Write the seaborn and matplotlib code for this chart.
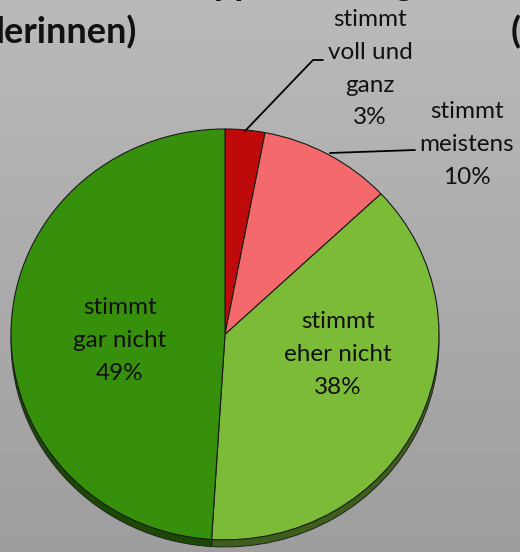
import numpy as np
import matplotlib
matplotlib.use("Agg")
import matplotlib.pyplot as plt
import seaborn as sns

# answer categories, clockwise from the top
labels = ["stimmt\nvoll und\nganz", "stimmt\nmeistens", "stimmt\neher nicht", "stimmt\ngar nicht"]
shares = [3, 10, 38, 49]
colors = ["#BE0A0A", "#F46A6C", "#7CBB38", "#37900C"]
rim_colors = ["#5E0505", "#7A3536", "#3E5E1C", "#1C4806"]
title_line1 = "Es kommt zu Gruppenbildung"
title_line2 = "(Schülerinnen)"

sns.set_theme(style="white")
plt.rcParams["font.family"] = ["Lato", "DejaVu Sans"]

W, H = 520, 552
fig = plt.figure(figsize=(W / 100, H / 100), dpi=100)

# grey gradient background
bg = fig.add_axes([0, 0, 1, 1])
grad = np.linspace(0, 1, 256).reshape(-1, 1)
bg.imshow(grad, cmap=matplotlib.colors.LinearSegmentedColormap.from_list("g", ["#BABABA", "#9E9E9E"]),
          aspect="auto", extent=[0, W, H, 0])
bg.set_xlim(0, W)
bg.set_ylim(H, 0)
bg.axis("off")

# pie axes fitted to the ellipse box (x 11..439, y 129..547)
left, right, top, bottom = 11, 439, 129, 547
ax = fig.add_axes([left / W, 1 - bottom / H, (right - left) / W, (bottom - top) / H])
drop = 0.035
ax.pie(shares, colors=rim_colors, startangle=90, counterclock=False, center=(0, -drop),
       wedgeprops=dict(edgecolor="#1A1A1A", linewidth=0.6))
ax.pie(shares, colors=colors, startangle=90, counterclock=False,
       wedgeprops=dict(edgecolor="#1A1A1A", linewidth=0.8))
ax.set_xlim(-1, 1)
ax.set_ylim(-1 - drop, 1)
ax.set_aspect("auto")
ax.axis("off")

# overlay in pixel coordinates for labels and title
ov = fig.add_axes([0, 0, 1, 1])
ov.set_xlim(0, W)
ov.set_ylim(H, 0)
ov.axis("off")
ov.patch.set_alpha(0)

pct = [f"{s}%" for s in shares]
label_pos = [(370, 20), (467, 112), (338, 322), (120, 308)]
for lab, p, (x, y) in zip(labels, pct, label_pos):
    for i, line in enumerate(lab.split("\n") + [p]):
        ov.text(x, y + i * 32.5, line, ha="center", va="center", fontsize=17.5, color="#111111")

ov.plot([245, 313, 323], [131, 60, 60], color="black", lw=1.3)
ov.plot([330, 415], [153, 150], color="black", lw=1.3)

# title, cut by the top and side edges as in the source slide
ov.text(-60, -5, title_line1, ha="left", va="baseline", fontsize=26, fontweight="bold", color="#111111")
ov.text(-4, 43, title_line2[5:], ha="left", va="baseline", fontsize=26, fontweight="bold", color="#111111")
ov.text(511, 43, "(Lehrer", ha="left", va="baseline", fontsize=26, fontweight="bold", color="#111111")

fig.savefig("out.png", dpi=100)
